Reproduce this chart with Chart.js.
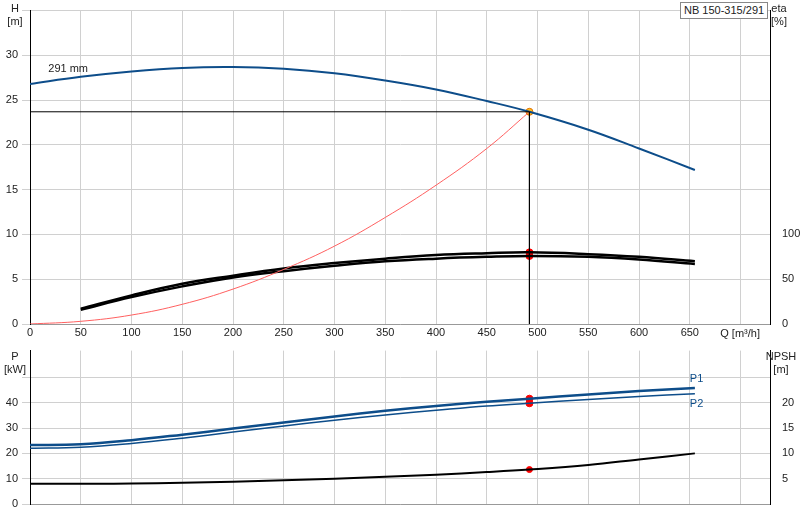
<!DOCTYPE html><html><head><meta charset="utf-8">
<script src="https://cdn.jsdelivr.net/npm/chart.js@4"></script>
<style>body{margin:0;background:#fff;width:800px;height:520px;position:relative;overflow:hidden;font-family:Arial,"Liberation Sans",sans-serif}
canvas{position:absolute;left:0}
.t{position:absolute;font-size:11px;color:#222;text-align:center;line-height:13px}
</style></head><body>
<canvas id="c1" width="800" height="340" style="top:0"></canvas>
<canvas id="c2" width="800" height="180" style="top:340px"></canvas>
<div class="t" style="left:4px;top:2px;width:22px">H<br>[m]</div>
<div class="t" style="left:768px;top:2px;width:22px">eta<br>[%]</div>
<div class="t" style="left:680px;top:2px;padding:1px 3px;border:1px solid #888;background:#fff">NB 150-315/291</div>
<div class="t" style="left:2px;top:350px;width:26px">P<br>[kW]</div>
<div class="t" style="left:764px;top:350px;width:34px">NPSH<br>[m]</div>
<script>
const qH=[0,50,100,150,200,250,300,350,400,450,492,550,600,655];
const H=[26.8,27.6,28.2,28.6,28.7,28.5,28.0,27.2,26.2,24.9,23.7,21.7,19.6,17.2];
const qSys=[0,50,100,150,200,250,300,350,400,450,492];
const sysH=[0,0.3,1.0,2.2,3.9,6.1,8.7,11.9,15.5,19.6,23.7];
const qEta=[50,100,150,200,250,300,350,400,450,492,550,600,655];
const eta1=[17,32,45,54,62,68,73,77,79,80,78,75,70];
const eta2=[16,30,42,52,59,65,70,73,75,76,75,72,67];
const qP=[0,50,100,150,200,250,300,350,400,450,492,550,600,655];
const P1=[23.3,23.6,25.2,27.4,29.8,32.2,34.6,36.8,38.7,40.4,41.6,43.3,44.6,45.8];
const P2=[22.0,22.4,23.9,26.0,28.4,30.8,33.1,35.2,37.0,38.7,39.8,41.3,42.5,43.6];
const qN=[0,65,100,150,200,250,300,350,400,450,492,550,600,655];
const NPSH=[4.0,4.0,4.05,4.2,4.4,4.7,5.0,5.4,5.8,6.3,6.8,7.7,8.8,10.0];
const dutyQ=492, dutyH=23.7;
const xTicks=[0,50,100,150,200,250,300,350,400,450,500,550,600,650];

const pts=(xs,ys)=>xs.map((x,i)=>({x,y:ys[i]}));
const font={size:11,family:'Arial, "Liberation Sans", sans-serif'};
const grid={color:'#d0d0d0'};
const xAxis=(show)=>({type:'linear',min:0,max:729,afterBuildTicks:a=>{a.ticks=[...xTicks,700].map(v=>({value:v}))},
 ticks:{display:show,color:'#222',font,maxRotation:0,padding:2,callback:v=>v<=650?v:''},grid:{...grid,drawTicks:false},border:{color:'#999'},
 afterFit:a=>{a.height=16}});
const line=(data,color,w,yID,tension=0.4)=>({data,showLine:true,borderColor:color,borderWidth:w,pointRadius:0,fill:false,tension,yAxisID:yID});

const txt={id:'txt',afterDatasetsDraw(c,a,o){const ctx=c.ctx;ctx.save();ctx.font='11px Arial, "Liberation Sans", sans-serif';
 (o.items||[]).forEach(t=>{ctx.fillStyle=t.c;ctx.fillText(t.s,c.scales.x.getPixelForValue(t.x),c.scales[t.ax].getPixelForValue(t.y));});ctx.restore();
 const X=c.scales.x.getPixelForValue(729);ctx.save();ctx.fillStyle='#222';ctx.font='11px Arial, "Liberation Sans", sans-serif';if(o.q)ctx.fillText('Q [m³/h]',c.scales.x.getPixelForValue(680),c.chartArea.bottom+13);ctx.restore();}};

new Chart(document.getElementById('c1'),{type:'scatter',plugins:[txt],data:{datasets:[
 line(pts([0,dutyQ],[dutyH,dutyH]),'#000',1,'y',0),
 line(pts([dutyQ,dutyQ],[dutyH,0]),'#000',1,'y',0),
 line(pts(qSys,sysH),'#ff6060',1,'y'),
 line(pts(qEta,eta1),'#000',2.5,'y2'),
 line(pts(qEta,eta2),'#000',2.5,'y2'),
 line(pts(qH,H),'#0d4d8a',2,'y'),
 {data:[{x:dutyQ,y:eta1[9]},{x:dutyQ,y:eta2[9]}],yAxisID:'y2',pointRadius:3.5,backgroundColor:'#f00',borderColor:'#f00',showLine:false},
 {data:[{x:dutyQ,y:dutyH}],yAxisID:'y',pointRadius:3.5,backgroundColor:'#ffc020',borderColor:'#e07000',borderWidth:1,showLine:false}
]},options:{animation:false,responsive:false,layout:{padding:{top:-9,left:0,right:0}},
 plugins:{legend:{display:false},tooltip:{enabled:false},txt:{q:true,items:[{s:'291 mm',x:18,y:28.1,ax:'y',c:'#222'}]}},
 scales:{x:xAxis(true),
  y:{min:0,max:35,afterBuildTicks:a=>{a.ticks=[0,5,10,15,20,25,30,35].map(v=>({value:v}))},ticks:{color:'#222',font,padding:4,callback:v=>v<35?v:''},grid,border:{color:'#000'},afterFit:a=>{a.width=30}},
  y2:{position:'right',min:0,max:350,afterBuildTicks:a=>{a.ticks=[0,50,100].map(v=>({value:v}))},ticks:{color:'#222',font,padding:4},grid:{display:false},border:{color:'#000'},afterFit:a=>{a.width=30}}}}});

new Chart(document.getElementById('c2'),{type:'scatter',plugins:[txt],data:{datasets:[
 line(pts(qN,NPSH),'#000',2,'y2'),
 line(pts(qP,P1),'#0d4d8a',2.5,'y'),
 line(pts(qP,P2),'#0d4d8a',1.5,'y'),
 {data:[{x:dutyQ,y:P1[10]},{x:dutyQ,y:P2[10]}],yAxisID:'y',pointRadius:3.5,backgroundColor:'#f00',borderColor:'#f00',showLine:false},
 {data:[{x:dutyQ,y:NPSH[10]}],yAxisID:'y2',pointRadius:3,backgroundColor:'#f00',borderColor:'#f00',showLine:false}
]},options:{animation:false,responsive:false,layout:{padding:{top:6,bottom:0}},
 plugins:{legend:{display:false},tooltip:{enabled:false},txt:{items:[{s:'P1',x:650,y:48,ax:'y',c:'#0d4d8a'},{s:'P2',x:650,y:38.5,ax:'y',c:'#0d4d8a'}]}},
 scales:{x:xAxis(false),
  y:{min:0,max:60.6,afterBuildTicks:a=>{a.ticks=[0,10,20,30,40,50].map(v=>({value:v}))},ticks:{color:'#222',font,padding:4,callback:v=>v<=40?v:''},grid,border:{color:'#000'},afterFit:a=>{a.width=30}},
  y2:{position:'right',min:0,max:30.3,afterBuildTicks:a=>{a.ticks=[0,5,10,15,20,25].map(v=>({value:v}))},ticks:{color:'#222',font,padding:4,callback:v=>(v>0&&v<=20)?v:''},grid:{display:false},border:{color:'#000'},afterFit:a=>{a.width=30}}}}});
</script></body></html>
